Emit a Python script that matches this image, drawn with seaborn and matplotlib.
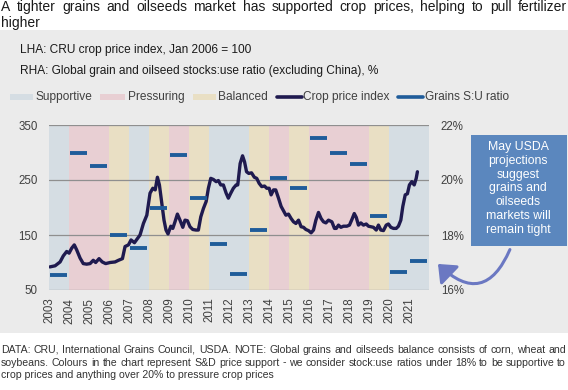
import numpy as np
import pandas as pd
import matplotlib
matplotlib.use("Agg")
import matplotlib.pyplot as plt
import seaborn as sns
from matplotlib.patches import Rectangle, FancyArrowPatch
from matplotlib.lines import Line2D

# ---------------- data ----------------
years = list(range(2003, 2022))
band_state = ["S", "P", "P", "B", "S", "B", "P", "B", "S", "S",
              "B", "P", "B", "P", "P", "P", "B", "S", "S"]
su_ratio = [16.55, 20.97, 20.51, 17.99, 17.52, 19.00, 20.90, 19.33, 17.66, 16.57,
            18.17, 20.08, 19.70, 21.52, 20.97, 20.58, 18.70, 16.64, 17.07]

crop_x = [2003.03, 2003.29, 2003.54, 2003.70, 2003.87, 2003.99, 2004.12, 2004.25, 2004.37,
          2004.54, 2004.70, 2004.87, 2005.04, 2005.20, 2005.32, 2005.49, 2005.65, 2005.82,
          2006.04, 2006.29, 2006.46, 2006.66, 2006.79, 2006.96, 2007.09, 2007.26, 2007.42,
          2007.54, 2007.71, 2007.88, 2008.04, 2008.18, 2008.30, 2008.41, 2008.51, 2008.63,
          2008.74, 2008.84, 2008.94, 2009.08, 2009.18, 2009.29, 2009.41, 2009.54, 2009.68,
          2009.79, 2009.91, 2010.04, 2010.18, 2010.34, 2010.46, 2010.58, 2010.71, 2010.85,
          2010.96, 2011.08, 2011.21, 2011.35, 2011.46, 2011.58, 2011.71, 2011.85, 2011.96,
          2012.08, 2012.21, 2012.35, 2012.43, 2012.55, 2012.67, 2012.77, 2012.87, 2012.98,
          2013.12, 2013.26, 2013.38, 2013.50, 2013.63, 2013.77, 2013.88, 2014.00, 2014.10,
          2014.22, 2014.33, 2014.47, 2014.60, 2014.72, 2014.84, 2014.97, 2015.10, 2015.22,
          2015.34, 2015.47, 2015.60, 2015.72, 2015.84, 2015.97, 2016.10, 2016.22, 2016.34,
          2016.47, 2016.60, 2016.72, 2016.84, 2016.97, 2017.14, 2017.27, 2017.36, 2017.47,
          2017.59, 2017.72, 2017.89, 2018.02, 2018.14, 2018.26, 2018.36, 2018.47, 2018.59,
          2018.72, 2018.86, 2018.97, 2019.09, 2019.22, 2019.36, 2019.47, 2019.59, 2019.72,
          2019.86, 2019.97, 2020.09, 2020.22, 2020.36, 2020.47, 2020.59, 2020.69, 2020.81,
          2020.92, 2021.02, 2021.14, 2021.26, 2021.36, 2021.42]
crop_v = [92, 94, 101, 112, 120, 117, 126, 132, 123,
          108, 98, 97, 98, 104, 100, 107, 101, 98,
          100, 101, 104, 107, 129, 132, 141, 136, 144,
          150, 171, 186, 226, 235, 232, 255, 241, 208,
          177, 159, 152, 166, 162, 174, 188, 177, 164,
          177, 176, 165, 160, 159, 159, 183, 198, 211,
          235, 253, 251, 247, 249, 241, 241, 226, 217,
          226, 235, 241, 241, 280, 294, 283, 265, 262,
          263, 255, 253, 244, 238, 239, 235, 235, 223,
          232, 232, 217, 202, 194, 186, 188, 180, 174,
          171, 177, 165, 164, 160, 158, 154, 159, 177,
          191, 180, 174, 172, 177, 174, 162, 162, 168,
          164, 166, 166, 168, 178, 189, 182, 168, 172,
          168, 170, 166, 165, 164, 159, 168, 159, 158,
          168, 170, 164, 162, 162, 166, 177, 202, 223,
          225, 241, 247, 241, 253, 265]

left_ticks = [50, 150, 250, 350]
right_ticks = [16, 18, 20, 22]
right_labels = ["16%", "18%", "20%", "22%"]

# ---------------- styling ----------------
W, H = 568, 390
sns.set_theme(style="white")
plt.rcParams["font.family"] = ["Liberation Sans", "DejaVu Sans"]

band_colors = {"S": "#d5dde3", "P": "#e8cfd3", "B": "#e9dfc4"}
panel_gray = "#ebebeb"
line_col = "#1f1a4f"
dash_col = "#1f5c9a"
txt_col = "#404040"

fig = plt.figure(figsize=(W / 100, H / 100), dpi=100)
fig.patch.set_facecolor("white")
renderer = fig.canvas.get_renderer()

def fx(px):
    return px / W

def fy(py):
    return 1 - py / H

def justified(text, x0, x1, py, **kw):
    """Place a line of text so that it fills x0..x1 pixels (word-justified)."""
    words = text.split(" ")
    arts = [fig.text(0, fy(py), w, ha="left", va="center", **kw) for w in words]
    widths = [a.get_window_extent(renderer=renderer).width for a in arts]
    gap = (x1 - x0 - sum(widths)) / max(len(words) - 1, 1)
    x = x0
    for a, w in zip(arts, widths):
        a.set_x(fx(x))
        x += w + gap

# gray panel
fig.add_artist(Rectangle((0, fy(333)), 1, fy(30) - fy(333), transform=fig.transFigure,
                         facecolor=panel_gray, edgecolor="none", zorder=-10))

ax = fig.add_axes([fx(49.3), fy(290), fx(429) - fx(49.3), fy(125) - fy(290)])
ax.set_facecolor("none")

for yr, st in zip(years, band_state):
    ax.axvspan(yr, yr + 1, color=band_colors[st], lw=0, zorder=0)

df = pd.DataFrame({"year": crop_x, "index": crop_v})
sns.lineplot(data=df, x="year", y="index", ax=ax, color=line_col, lw=2.4, zorder=3)

ax.set_xlim(2003, 2022)
ax.set_ylim(50, 350)
ax.set_yticks(left_ticks)
ax.set_yticklabels([str(t) for t in left_ticks])
ax.set_xticks(years)
ax.set_xticklabels([str(y) for y in years], rotation=90)
ax.set_xlabel("")
ax.set_ylabel("")
ax.grid(axis="y", color="#8f8f8f", lw=0.9, zorder=1)
ax.set_axisbelow(False)
for s in ax.spines.values():
    s.set_visible(False)
ax.tick_params(axis="y", length=0, pad=8.5, labelsize=8.3, labelcolor=txt_col)
ax.tick_params(axis="x", length=0, pad=5.5, labelsize=8.3, labelcolor=txt_col)

ax2 = ax.twinx()
ax2.set_ylim(16, 22)
ax2.set_yticks(right_ticks)
ax2.set_yticklabels(right_labels)
for s in ax2.spines.values():
    s.set_visible(False)
ax2.tick_params(axis="y", length=0, pad=8.5, labelsize=8.3, labelcolor=txt_col)
yrs = np.array(years, dtype=float)
ax2.hlines(su_ratio, yrs + 0.04, yrs + 0.90, color=dash_col, lw=2.8, zorder=4)
ax2.grid(False)

# ---------------- texts ----------------
justified("A tighter grains and oilseeds market has supported crop prices, helping to pull fertilizer",
          1, 567, 7, fontsize=10, color="#1a1a1a")
fig.text(fx(1), fy(22.5), "higher", ha="left", va="center", fontsize=10, color="#1a1a1a")

fig.text(fx(20), fy(50), "LHA: CRU crop price index, Jan 2006 = 100", ha="left", va="center",
         fontsize=8.6, color="#1a1a1a")
fig.text(fx(20), fy(71), "RHA: Global grain and oilseed stocks:use ratio (excluding China), %",
         ha="left", va="center", fontsize=8.6, color="#1a1a1a")

# legend (manual)
ly = 97
for (x0, x1, tx, lab, kind, col) in [
        (10, 33, 36, "Supportive", "patch", band_colors["S"]),
        (100, 125, 128, "Pressuring", "patch", band_colors["P"]),
        (193, 216, 218, "Balanced", "patch", band_colors["B"]),
        (277, 302, 303, "Crop price index", "line", line_col),
        (398, 423, 425, "Grains S:U ratio", "line", dash_col)]:
    if kind == "patch":
        fig.add_artist(Rectangle((fx(x0), fy(ly + 3)), fx(x1) - fx(x0), fy(ly - 3) - fy(ly + 3),
                                 transform=fig.transFigure, facecolor=col, edgecolor="none"))
    else:
        fig.add_artist(Line2D([fx(x0), fx(x1)], [fy(ly), fy(ly)], transform=fig.transFigure,
                              color=col, lw=2.6))
    fig.text(fx(tx), fy(ly), lab, ha="left", va="center", fontsize=8.6, color=txt_col)

# annotation box
fig.add_artist(Rectangle((fx(471), fy(246)), fx(567) - fx(471), fy(135) - fy(246),
                         transform=fig.transFigure, facecolor="#5b87be", edgecolor="none"))
box_lines = ["May USDA", "projections", "suggest", "grains and", "oilseeds",
             "markets will", "remain tight"]
for i, t in enumerate(box_lines):
    fig.text(fx(518), fy(147 + i * 13.8), t, ha="center", va="center", fontsize=8.8, color="white")

arr = FancyArrowPatch((fx(511), fy(247)), (fx(436), fy(262)), transform=fig.transFigure,
                      connectionstyle="arc3,rad=-0.75", arrowstyle="-|>,head_length=6,head_width=5",
                      color="#6b78c2", lw=2.2, mutation_scale=1.6)
fig.add_artist(arr)

# footer
foot = ["DATA: CRU, International Grains Council, USDA. NOTE: Global grains and oilseeds balance consists of corn, wheat and",
        "soybeans. Colours in the chart represent S&D price support - we consider stock:use ratios under 18% to be supportive to",
        "crop prices and anything over 20% to pressure crop prices"]
justified(foot[0], 1, 566, 350, fontsize=7.6, color="#333333")
justified(foot[1], 1, 566, 362.5, fontsize=7.6, color="#333333")
fig.text(fx(1), fy(375), foot[2], ha="left", va="center", fontsize=7.6, color="#333333")

fig.savefig("out.png", dpi=100, facecolor="white")
